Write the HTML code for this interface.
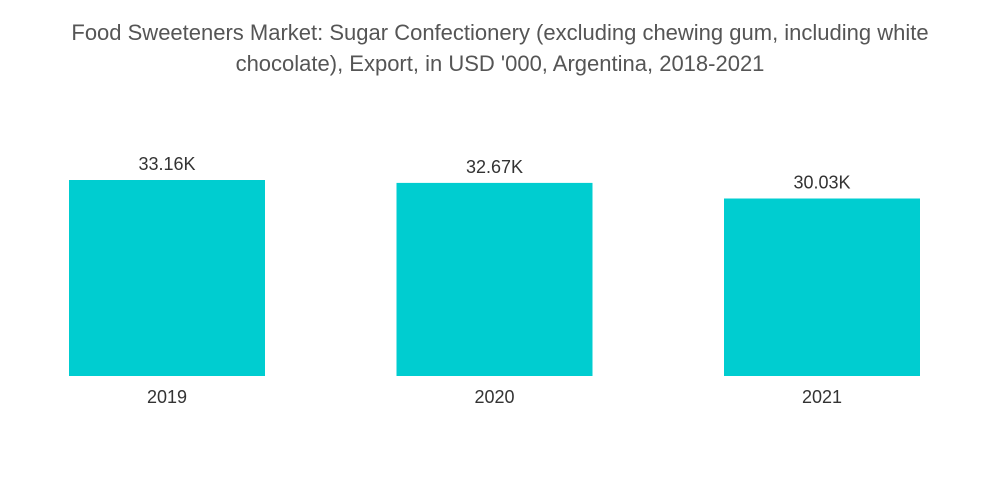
<!DOCTYPE html>
<html><head><meta charset="utf-8"><style>
body{margin:0;background:#fff;width:1000px;height:504px;overflow:hidden;font-family:"Liberation Sans",sans-serif;}
.title{position:absolute;left:0;top:17px;width:1000px;text-align:center;color:#555;font-size:22px;line-height:31px;}
</style></head><body>
<div class="title">Food Sweeteners Market: Sugar Confectionery (excluding chewing gum, including white<br>chocolate), Export, in USD '000, Argentina, 2018-2021</div>
<svg id="chart" width="1000" height="504" style="position:absolute;left:0;top:0"></svg>
<script>
const categories=["2019","2020","2021"];
const values=[33.16,32.67,30.03];
const valueLabels=["33.16K","32.67K","30.03K"];
const svg=document.getElementById('chart');
const NS='http://www.w3.org/2000/svg';
const baseY=376, pxPerK=196/33.16;
function y(v){return baseY-v*pxPerK;}
function x(i){return 69+i*327.5;}
const bw=196;
categories.forEach((c,i)=>{
  const r=document.createElementNS(NS,'rect');
  r.setAttribute('x',x(i));r.setAttribute('y',y(values[i]));
  r.setAttribute('width',bw);r.setAttribute('height',baseY-y(values[i]));
  r.setAttribute('fill','#00CDD0');
  
  
  svg.appendChild(r);
  const t=document.createElementNS(NS,'text');
  t.setAttribute('x',x(i)+bw/2);t.setAttribute('y',y(values[i])-10);
  t.setAttribute('text-anchor','middle');t.setAttribute('font-size','18');t.setAttribute('fill','#333');
  t.setAttribute('font-family','Liberation Sans, sans-serif');
  t.textContent=valueLabels[i];
  
  
  svg.appendChild(t);
  const l=document.createElementNS(NS,'text');
  l.setAttribute('x',x(i)+bw/2);l.setAttribute('y',403);
  l.setAttribute('text-anchor','middle');l.setAttribute('font-size','18');l.setAttribute('fill','#333');
  l.setAttribute('font-family','Liberation Sans, sans-serif');
  l.textContent=c;
  
  
  svg.appendChild(l);
});
</script>
</body></html>
